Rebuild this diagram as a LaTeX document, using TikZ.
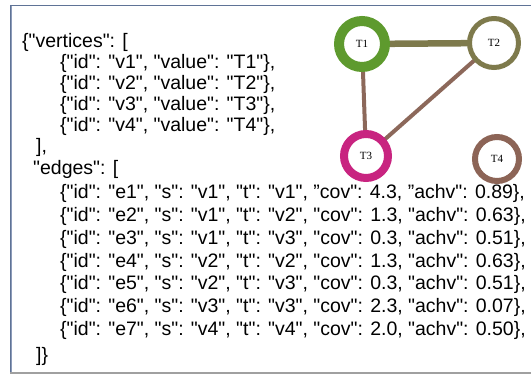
\documentclass[tikz,border=0pt]{standalone}
\usepackage{fontspec}
\setmainfont{Liberation Sans}[Ligatures=TeXOff]
\newfontfamily\vfont{Liberation Serif}
\usetikzlibrary{backgrounds}

\definecolor{frameblue}{RGB}{95,115,150}
\definecolor{frameside}{RGB}{140,155,185}
\definecolor{framegray}{RGB}{160,160,160}
\definecolor{tgreen}{RGB}{94,154,46}
\definecolor{tolive}{RGB}{126,122,76}
\definecolor{tmagenta}{RGB}{200,36,128}
\definecolor{tbrown}{RGB}{140,100,86}
\definecolor{ebrown}{RGB}{140,104,90}

\tikzset{
  json/.style={anchor=base west, inner sep=0pt, font=\fontsize{19.5}{23}\selectfont},
  vtx/.style={circle, draw, fill=white, inner sep=0pt, font=\vfont\fontsize{11}{13}\selectfont},
  link/.style={line cap=butt}
}

\begin{document}
\begin{tikzpicture}[x=1pt, y=-1pt]
\useasboundingbox (0,0) rectangle (531,377);

% frame
\draw[framegray, line width=2.5pt] (10,373) -- (535,373);
\draw[frameside, line width=1pt] (11.5,5) -- (11.5,372);
\draw[frameblue, line width=1.2pt] (10,5.5) -- (535,5.5);
\draw[frameblue, line width=1pt] (10,5) -- (10,372);

% graph (drawn first so that the listing stays on top)
\node[vtx, draw=tgreen, line width=10pt, minimum size=46pt] (T1) at (362,44) {T1};
\node[vtx, draw=tolive, line width=5pt, minimum size=49pt] (T2) at (494,43) {T2};
\node[vtx, draw=tmagenta, line width=8pt, minimum size=44pt] (T3) at (366,156) {T3};
\node[vtx, draw=tbrown, line width=6pt, minimum size=44pt] (T4) at (497,159) {T4};

\begin{pgfonlayer}{background}
\draw[link, tolive, line width=6.5pt] (T1.center) -- (T2.center);
\draw[link, ebrown, line width=4pt] (T1.center) -- (T3.center);
\draw[link, ebrown, line width=4pt] (T2.center) -- (T3.center);
\end{pgfonlayer}

% JSON listing
\node[json] (l0) at (22,47.5) {\{"vertices": [};
\node[json] (l1) at (60,68.5) {\{"id": "v1", "value": "T1"\},};
\node[json] (l2) at (60,89.5) {\{"id": "v2", "value": "T2"\},};
\node[json] (l3) at (60,110.5) {\{"id": "v3", "value": "T3"\},};
\node[json] (l4) at (60,131.5) {\{"id": "v4", "value": "T4"\},};
\node[json] (l5) at (36,153) {],};
\node[json] (l6) at (33,175) {"edges": [};
\node[json] (e1) at (60,199) {\{"id": "e1", "s": "v1", "t": "v1", ”cov": 4.3, ”achv": 0.89\},};
\node[json] (e2) at (60,221.7) {\{"id": "e2", "s": "v1", "t": "v2", "cov": 1.3, "achv": 0.63\},};
\node[json] (e3) at (60,244.4) {\{"id": "e3", "s": "v1", "t": "v3", "cov": 0.3, "achv": 0.51\},};
\node[json] (e4) at (60,267.1) {\{"id": "e4", "s": "v2", "t": "v2", "cov": 1.3, "achv": 0.63\},};
\node[json] (e5) at (60,289.8) {\{"id": "e5", "s": "v2", "t": "v3", "cov": 0.3, "achv": 0.51\},};
\node[json] (e6) at (60,312.5) {\{"id": "e6", "s": "v3", "t": "v3", "cov": 2.3, "achv": 0.07\},};
\node[json] (e7) at (60,335.2) {\{"id": "e7", "s": "v4", "t": "v4", "cov": 2.0, "achv": 0.50\},};
\node[json] (l7) at (36,361) {]\}};
\end{tikzpicture}
\end{document}
